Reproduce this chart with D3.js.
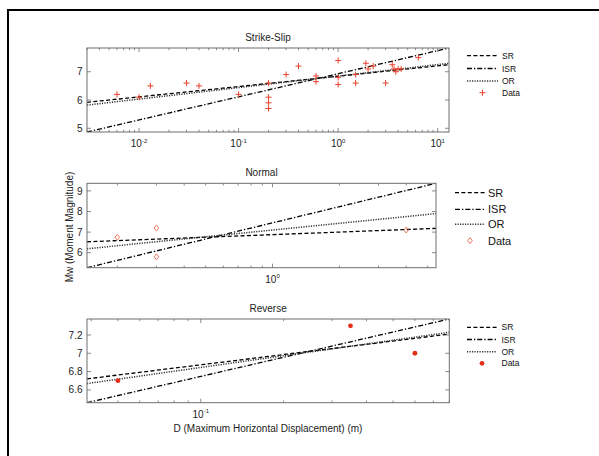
<!DOCTYPE html>
<html>
<head>
<meta charset="utf-8">
<script src="https://cdn.jsdelivr.net/npm/d3@7/dist/d3.min.js"></script>
<style>
  html, body { margin: 0; padding: 0; background: #fff; }
  svg { display: block; font-family: "Liberation Sans", Arial, sans-serif; }
</style>
</head>
<body>
<svg id="chart" width="599" height="456"></svg>
<script>
// ---- Strike-slip events: maximum horizontal displacement (m) vs Mw
const ssD  = [0.006, 0.01, 0.013, 0.03, 0.04, 0.1, 0.2, 0.2, 0.2, 0.2, 0.3, 0.4, 0.6, 0.6, 1.0, 1.0, 1.0, 1.5, 1.5, 1.9, 2.0, 2.25, 3.0, 3.5, 3.65, 3.8, 4.0, 4.3, 6.4];
const ssMw = [6.2, 6.1, 6.5, 6.6, 6.5, 6.2, 6.6, 6.1, 5.9, 5.7, 6.9, 7.2, 6.85, 6.65, 7.4, 6.8, 6.55, 6.9, 6.6, 7.3, 7.1, 7.2, 6.6, 7.25, 7.1, 7.0, 7.1, 7.1, 7.5];
// ---- Normal events
const nmD  = [0.2, 0.3, 0.3, 4.0];
const nmMw = [6.75, 7.2, 5.8, 7.1];
// ---- Reverse events
const rvD  = [0.05, 0.35, 0.6];
const rvMw = [6.7, 7.3, 7.0];

// Fitted relations Mw = a + b*log10(D), in the order SR, ISR, OR
const fitNames = ["SR", "ISR", "OR"];
const ssFitA = [6.843, 6.930, 6.847];
const ssFitB = [0.366, 0.817, 0.407];
const nmFitA = [6.876, 7.450, 7.100];
const nmFitB = [0.414, 2.608, 1.088];
const rvFitA = [7.246, 7.442, 7.271];
const rvFitB = [0.372, 0.695, 0.426];

// Axis ranges and tick values
const ssXDomain = [0.003, 13];
const nmXDomain = [0.146, 5.45];
const rvXDomain = [0.0386, 0.8];
const ssYTicks = [5, 6, 7];
const nmYTicks = [6, 7, 8, 9];
const rvYTicks = [6.6, 6.8, 7, 7.2];

const titles = ["Strike-Slip", "Normal", "Reverse"];
const legendLabels = ["SR", "ISR", "OR", "Data"];

const RED = "#e8432c";
const AXIS = "#6e6e6e";
const lineStyle = {
  SR:  { dash: "4,2.4",     color: "#000", width: 1.3 },
  ISR: { dash: "5,2,1.3,2", color: "#000", width: 1.3 },
  OR:  { dash: "1.2,1.3",   color: "#333", width: 1.5 }
};

const svg = d3.select("#chart");

// outer frame (top and left edges)
svg.append("path")
  .attr("d", "M8,456V10H599")
  .attr("fill", "none").attr("stroke", "#000").attr("stroke-width", 2);

const panels = [
  { title: titles[0], xd: ssXDomain, D: ssD, Mw: ssMw, A: ssFitA, B: ssFitB, yt: ssYTicks,
    box: [87, 449, 48, 132], marker: "plus",
    legend: { x0: 467, x1: 498, tx: 502, ys: [55.7, 68.5, 81, 92.7], fs: 8.5 } },
  { title: titles[1], xd: nmXDomain, D: nmD, Mw: nmMw, A: nmFitA, B: nmFitB, yt: nmYTicks,
    box: [87, 436, 183.3, 267.7], marker: "diamond",
    legend: { x0: 455, x1: 485, tx: 488, ys: [192.7, 209.3, 224.3, 240.7], fs: 11 } },
  { title: titles[2], xd: rvXDomain, D: rvD, Mw: rvMw, A: rvFitA, B: rvFitB, yt: rvYTicks,
    box: [87, 449.3, 319, 402.7], marker: "dot",
    legend: { x0: 467, x1: 497, tx: 501.5, ys: [327.3, 339.5, 351.7, 363.3], fs: 8.5 } }
];

function drawMarker(g, type, cx, cy) {
  if (type === "plus") {
    g.append("path")
      .attr("d", `M${cx - 3},${cy}H${cx + 3}M${cx},${cy - 3}V${cy + 3}`)
      .attr("stroke", RED).attr("stroke-width", 1).attr("fill", "none");
  } else if (type === "diamond") {
    g.append("path")
      .attr("d", `M${cx},${cy - 3}L${cx + 2.3},${cy}L${cx},${cy + 3}L${cx - 2.3},${cy}Z`)
      .attr("stroke", "#ec6a4e").attr("stroke-width", 0.9).attr("fill", "none");
  } else {
    g.append("circle").attr("cx", cx).attr("cy", cy).attr("r", 2.4).attr("fill", "#e4301a");
  }
}

function styleLine(sel, name) {
  const s = lineStyle[name];
  return sel.attr("fill", "none").attr("stroke", s.color)
    .attr("stroke-width", s.width).attr("stroke-dasharray", s.dash);
}

panels.forEach(p => {
  const [x0, x1, y0, y1] = p.box;
  const x = d3.scaleLog().domain(p.xd).range([x0, x1]);
  const fits = fitNames.map((n, i) => ({ name: n, f: d => p.A[i] + p.B[i] * Math.log10(d) }));
  const ends = fits.flatMap(ft => p.xd.map(ft.f));
  const y = d3.scaleLinear().domain(d3.extent(ends)).range([y1, y0]);

  const g = svg.append("g");

  // fitted lines, clipped to the axes box
  const clipId = "clip" + p.title.replace(/\W/g, "");
  svg.append("clipPath").attr("id", clipId)
    .append("rect").attr("x", x0).attr("y", y0).attr("width", x1 - x0).attr("height", y1 - y0);
  const lg = g.append("g").attr("clip-path", `url(#${clipId})`);
  const samples = d3.range(0, 41).map(k => p.xd[0] * Math.pow(p.xd[1] / p.xd[0], k / 40));
  fits.forEach(ft => {
    styleLine(lg.append("path")
      .datum(samples)
      .attr("d", d3.line().x(d => x(d)).y(d => y(ft.f(d)))), ft.name);
  });

  // observations
  p.D.forEach((d, i) => drawMarker(g, p.marker, x(d), y(p.Mw[i])));

  // axes box
  g.append("rect").attr("x", x0).attr("y", y0).attr("width", x1 - x0).attr("height", y1 - y0)
    .attr("fill", "none").attr("stroke", AXIS).attr("stroke-width", 1);

  // x ticks (log, inward on top and bottom)
  const xt = x.ticks().filter(t => t >= p.xd[0] && t <= p.xd[1]);
  xt.forEach(t => {
    const major = Math.abs(Math.log10(t) - Math.round(Math.log10(t))) < 1e-9;
    const len = major ? 4 : 2.2;
    const px = x(t);
    g.append("path").attr("d", `M${px},${y1}V${y1 - len}M${px},${y0}V${y0 + len}`)
      .attr("stroke", AXIS).attr("stroke-width", 0.8);
    if (major) {
      const e = Math.round(Math.log10(t));
      const txt = g.append("text").attr("x", px).attr("y", y1 + 15)
        .attr("text-anchor", "middle").attr("font-size", 10).attr("fill", "#222");
      txt.append("tspan").text("10");
      txt.append("tspan").attr("dy", -4.5).attr("font-size", 6).text(String(e));
    }
  });

  // y ticks (inward on left and right)
  p.yt.forEach(t => {
    const py = y(t);
    g.append("path").attr("d", `M${x0},${py}H${x0 + 4}M${x1},${py}H${x1 - 4}`)
      .attr("stroke", AXIS).attr("stroke-width", 0.8);
    g.append("text").attr("x", x0 - 4.5).attr("y", py + 3.6)
      .attr("text-anchor", "end").attr("font-size", 10).attr("fill", "#222").text(t);
  });

  // title
  g.append("text").attr("x", (x0 + x1) / 2).attr("y", y0 - 7.5)
    .attr("text-anchor", "middle").attr("font-size", 10).attr("fill", "#222").text(p.title);

  // legend
  const L = p.legend;
  legendLabels.forEach((lab, i) => {
    const ly = L.ys[i];
    if (i < 3) {
      styleLine(g.append("path").attr("d", `M${L.x0},${ly}H${L.x1}`), fitNames[i]);
    } else {
      drawMarker(g, p.marker, (L.x0 + L.x1) / 2, ly);
    }
    g.append("text").attr("x", L.tx).attr("y", ly + L.fs * 0.36)
      .attr("font-size", L.fs).attr("fill", "#111").text(lab);
  });
});

// shared axis labels
svg.append("text")
  .attr("transform", "translate(73,227) rotate(-90)")
  .attr("text-anchor", "middle").attr("font-size", 10).attr("fill", "#222")
  .text("Mw (Moment Magnitude)");
svg.append("text")
  .attr("x", 268).attr("y", 431.5)
  .attr("text-anchor", "middle").attr("font-size", 10).attr("fill", "#222")
  .text("D (Maximum Horizontal Displacement) (m)");
</script>
</body>
</html>
